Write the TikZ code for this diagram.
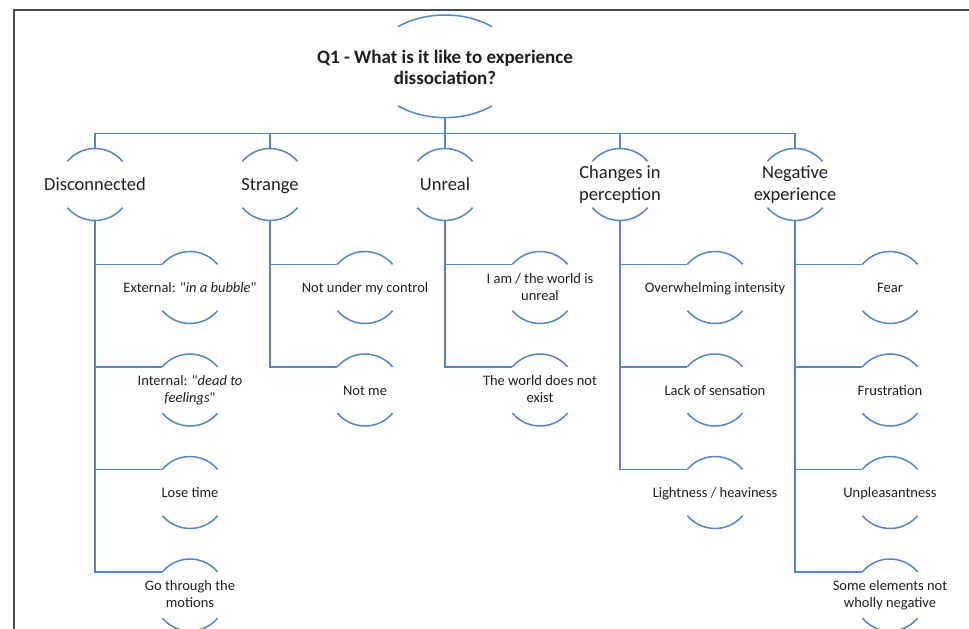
\documentclass[tikz,border=0pt]{standalone}
\usepackage{fontspec}
% plain family: keeps the straight ASCII double quote as typed
\newfontfamily\labelfont{Carlito}
\usetikzlibrary{calc}

\definecolor{linkblue}{HTML}{5585C0}
\definecolor{framegray}{HTML}{4A4A4A}
\definecolor{inkdark}{HTML}{1E1E1E}

\tikzset{
  rim/.style={draw=linkblue, line width=1.5pt},
  link/.style={draw=linkblue, line width=1.5pt},
  evenlines/.style={execute at begin node=\strut, execute at end node=\strut},
  rootlabel/.style={font=\labelfont\fontsize{19}{21}\selectfont\bfseries, align=center, text=inkdark, inner sep=0pt},
  themelabel/.style={font=\labelfont\fontsize{18.5}{22}\selectfont, align=center, text=inkdark, inner sep=0pt, evenlines, yshift=-2pt},
  sublabel/.style={font=\labelfont\fontsize{14.5}{17}\selectfont, align=center, text=inkdark, inner sep=0pt, evenlines, yshift=-2pt},
}

% a label between an upper and a lower circular arc
% #1 name, #2 x, #3 y, #4 radius, #5 label style, #6 text
\newcommand\ringnode[6]{%
  \coordinate (#1-c) at (#2,#3);
  \node[#5] (#1) at (#1-c) {#6};
  \draw[rim] ($(#1-c)+(40:#4)$) arc[start angle=40,end angle=140,radius=#4];
  \draw[rim] ($(#1-c)+(220:#4)$) arc[start angle=220,end angle=320,radius=#4];
  \coordinate (#1-n) at ($(#1-c)+(90:#4)$);
  \coordinate (#1-s) at ($(#1-c)+(270:#4)$);
  \coordinate (#1-w) at ($(#1-c)+(140:#4)$);
}

\begin{document}
\begin{tikzpicture}[x=1pt,y=1pt]
\useasboundingbox (0,0) rectangle (969,-629);

% page frame
\draw[framegray, line width=1.4pt] (14,-629) -- (14,-10) -- (969,-10);

% root question between two elliptic arcs
\coordinate (root-c) at (445,-66.3);
\node[rootlabel] (root) at (445,-67.5) {Q1 - What is it like to experience\\dissociation?};
\draw[rim] ($(root-c)+(50.6:74 and 51.3)$) arc[start angle=50.6,end angle=129.4,x radius=74,y radius=51.3];
\draw[rim] ($(root-c)+(230.6:74 and 51.3)$) arc[start angle=230.6,end angle=309.4,x radius=74,y radius=51.3];
\coordinate (root-s) at ($(root-c)+(0,-51.3)$);

% themes
\ringnode{t1}{95}{-184.5}{36}{themelabel}{Disconnected}
\ringnode{t2}{270}{-184.5}{36}{themelabel}{Strange}
\ringnode{t3}{445}{-184.5}{36}{themelabel}{Unreal}
\ringnode{t4}{620}{-184.5}{36}{themelabel}{Changes in\\perception}
\ringnode{t5}{795}{-184.5}{36}{themelabel}{Negative\\experience}

% sub-themes
\ringnode{s11}{190}{-287.5}{36}{sublabel}{External: "\textit{in a bubble}"}
\ringnode{s12}{190}{-390}{36}{sublabel}{Internal: "\textit{dead to}\\\textit{feelings}"}
\ringnode{s13}{190}{-492.5}{36}{sublabel}{Lose time}
\ringnode{s14}{190}{-595}{36}{sublabel}{Go through the\\motions}

\ringnode{s21}{365}{-287.5}{36}{sublabel}{Not under my control}
\ringnode{s22}{365}{-390}{36}{sublabel}{Not me}

\ringnode{s31}{540}{-287.5}{36}{sublabel}{I am / the world is\\unreal}
\ringnode{s32}{540}{-390}{36}{sublabel}{The world does not\\exist}

\ringnode{s41}{715}{-287.5}{36}{sublabel}{Overwhelming intensity}
\ringnode{s42}{715}{-390}{36}{sublabel}{Lack of sensation}
\ringnode{s43}{715}{-492.5}{36}{sublabel}{Lightness / heaviness}

\ringnode{s51}{890}{-287.5}{36}{sublabel}{Fear}
\ringnode{s52}{890}{-390}{36}{sublabel}{Frustration}
\ringnode{s53}{890}{-492.5}{36}{sublabel}{Unpleasantness}
\ringnode{s54}{890}{-595}{36}{sublabel}{Some elements not\\wholly negative}

% root to themes
\foreach \t in {t1,t2,t3,t4,t5}
  \draw[link] (root-s) -- ++(0,-15.7) -| (\t-n);

% themes to sub-themes
\foreach \t/\s in {t1/s11,t1/s12,t1/s13,t1/s14,
                   t2/s21,t2/s22,
                   t3/s31,t3/s32,
                   t4/s41,t4/s42,t4/s43,
                   t5/s51,t5/s52,t5/s53,t5/s54}
  \draw[link] (\t-s) |- (\s-w);
\end{tikzpicture}
\end{document}
